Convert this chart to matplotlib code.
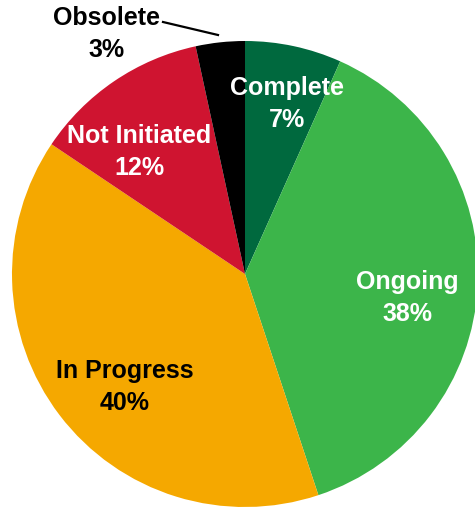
import matplotlib
matplotlib.use("Agg")
import matplotlib.pyplot as plt

categories = ["Complete", "Ongoing", "In Progress", "Not Initiated", "Obsolete"]
values = [6.7, 38.2, 39.5, 12.2, 3.4]
pct_labels = ["7%", "38%", "40%", "12%", "3%"]
colors = ["#00693E", "#3CB54A", "#F5A800", "#CF1430", "#000000"]
text_colors = ["white", "white", "black", "white", "black"]

W, H = 475, 508
fig = plt.figure(figsize=(W / 100, H / 100), dpi=100)
ax = fig.add_axes([0, 0, 1, 1])
ax.set_xlim(0, W)
ax.set_ylim(0, H)
ax.set_aspect("equal")
ax.axis("off")

cx, cy, r = 245, H - 274, 233
ax.pie(values, colors=colors, startangle=90, counterclock=False,
       center=(cx, cy), radius=r, frame=True,
       wedgeprops=dict(linewidth=0))
ax.set_xlim(0, W)
ax.set_ylim(0, H)
ax.axis("off")

# label positions (pixel coords, y from top)
pos = [(287, 104), (407, 298), (125, 387), (139, 152), (107, 34)]
font = dict(family="Liberation Sans", weight="bold", fontsize=18,
            ha="center", va="center", linespacing=1.42)
for cat, pl, (x, y), tc in zip(categories, pct_labels, pos, text_colors):
    ax.text(x, H - y, f"{cat}\n{pl}", color=tc, **font)

ax.plot([163, 218], [H - 22, H - 35], color="black", lw=1.6)

fig.savefig("out.png", dpi=100)
